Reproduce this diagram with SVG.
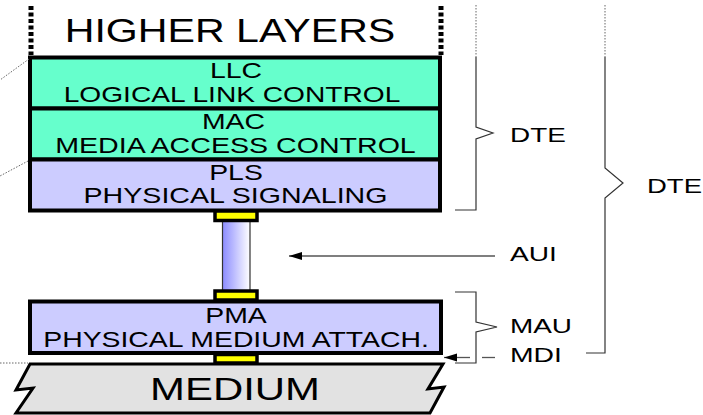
<svg xmlns="http://www.w3.org/2000/svg" width="703" height="415" viewBox="0 0 703 415">
<defs>
<style>
.t{font-family:"Liberation Sans",Arial,sans-serif;fill:#000;text-anchor:middle}
.s{font-size:22px}
.r{font-family:"Liberation Sans",Arial,sans-serif;font-size:21px;fill:#000}
.box{stroke:#000;stroke-width:4}
.conn{fill:#FFFF00;stroke:#000;stroke-width:3.5}
.br{fill:none;stroke:#333;stroke-width:1.2}
.dot{fill:none;stroke:#666;stroke-width:1;stroke-dasharray:1.5,1.5}
.hl{fill:none;stroke:#000;stroke-width:5;stroke-dasharray:4,2.5}
</style>
<linearGradient id="cab" x1="0" y1="0" x2="1" y2="0">
<stop offset="0" stop-color="#8C8CFF"/>
<stop offset="1" stop-color="#FFFFFF"/>
</linearGradient>
<marker id="ah" markerWidth="14" markerHeight="10" refX="13" refY="5" orient="auto" markerUnits="userSpaceOnUse">
<path d="M0,1 L13,5 L0,9 Z" fill="#000"/>
</marker>
</defs>
<rect width="703" height="415" fill="#fff"/>

<g id="higher-layers">
<line class="hl" x1="31" y1="6" x2="31" y2="55"/>
<line class="hl" x1="441" y1="6" x2="441" y2="55"/>
<text class="t" transform="translate(230,42) scale(1.21,1)" x="0" y="0" font-size="34">HIGHER LAYERS</text>
</g>

<g id="llc">
<rect class="box" x="30" y="57.5" width="410" height="51" fill="#66FFCC"/>
<text class="t s" transform="translate(236,78) scale(1.29,1)" x="0" y="0">LLC</text>
<text class="t s" transform="translate(232,101.5) scale(1.28,1)" x="0" y="0">LOGICAL LINK CONTROL</text>
</g>

<g id="mac">
<rect class="box" x="30" y="108.5" width="410" height="51" fill="#66FFCC"/>
<text class="t s" transform="translate(233.5,128.5) scale(1.29,1)" x="0" y="0">MAC</text>
<text class="t s" transform="translate(235.5,153) scale(1.30,1)" x="0" y="0">MEDIA ACCESS CONTROL</text>
</g>

<g id="pls">
<rect class="box" x="30" y="159.5" width="410" height="51" fill="#CCCCFF"/>
<text class="t s" transform="translate(236,180) scale(1.29,1)" x="0" y="0">PLS</text>
<text class="t s" transform="translate(235.5,203) scale(1.30,1)" x="0" y="0">PHYSICAL SIGNALING</text>
</g>

<g id="aui-cable">
<rect x="222.5" y="221" width="27.5" height="70" fill="url(#cab)" stroke="#333" stroke-width="1.2"/>
<rect class="conn" x="215" y="211" width="42" height="9.5"/>
<rect class="conn" x="215" y="291" width="42" height="9"/>
</g>

<g id="pma">
<rect class="box" x="30" y="301.5" width="411" height="51.5" fill="#CCCCFF"/>
<text class="t s" transform="translate(236,323) scale(1.29,1)" x="0" y="0">PMA</text>
<text class="t s" transform="translate(236,347) scale(1.29,1)" x="0" y="0">PHYSICAL MEDIUM ATTACH.</text>
</g>

<g id="mdi-connector">
<rect class="conn" x="215" y="354.5" width="42" height="8.5"/>
</g>

<g id="medium">
<path d="M30,364 L443,364 L428,389 L444,387 L430,413 L16,413 L33,388 L16,390 Z" fill="#E2E2E2" stroke="#000" stroke-width="3" stroke-linejoin="miter"/>
<text class="t" transform="translate(235,400) scale(1.31,1)" x="0" y="0" font-size="32">MEDIUM</text>
</g>

<g id="connectors">
<line class="dot" x1="29" y1="59" x2="0" y2="80"/>
<line class="dot" x1="28" y1="161" x2="0" y2="176"/>
<line class="dot" x1="0" y1="363" x2="28" y2="363"/>
<line class="dot" x1="476" y1="5" x2="476" y2="57"/>
<line class="dot" x1="605" y1="5" x2="605" y2="57"/>
<path class="br" d="M476,57 L476,127 L493,133 L476,139 L476,210 L455,210"/>
<path class="br" d="M605,57 L605,168 L623,183 L605,198 L605,353 L586,353"/>
<path class="br" d="M455,292 L476,292 L476,322 L497,327 L476,332 L476,363 L455,363"/>
<line x1="495" y1="256" x2="289" y2="256" stroke="#555" stroke-width="1.3" marker-end="url(#ah)"/>
<line x1="470" y1="357.5" x2="444" y2="357.5" stroke="#555" stroke-width="1.3" marker-end="url(#ah)"/>
<line x1="482" y1="357.5" x2="495" y2="357.5" stroke="#555" stroke-width="1.3"/>
</g>

<g id="labels">
<text class="r" transform="translate(510,142) scale(1.33,1)" x="0" y="0">DTE</text>
<text class="r" transform="translate(647,193) scale(1.31,1)" x="0" y="0">DTE</text>
<text class="r" transform="translate(510,261) scale(1.34,1)" x="0" y="0">AUI</text>
<text class="r" transform="translate(510,333) scale(1.33,1)" x="0" y="0">MAU</text>
<text class="r" transform="translate(510,362) scale(1.35,1)" x="0" y="0">MDI</text>
</g>
</svg>
